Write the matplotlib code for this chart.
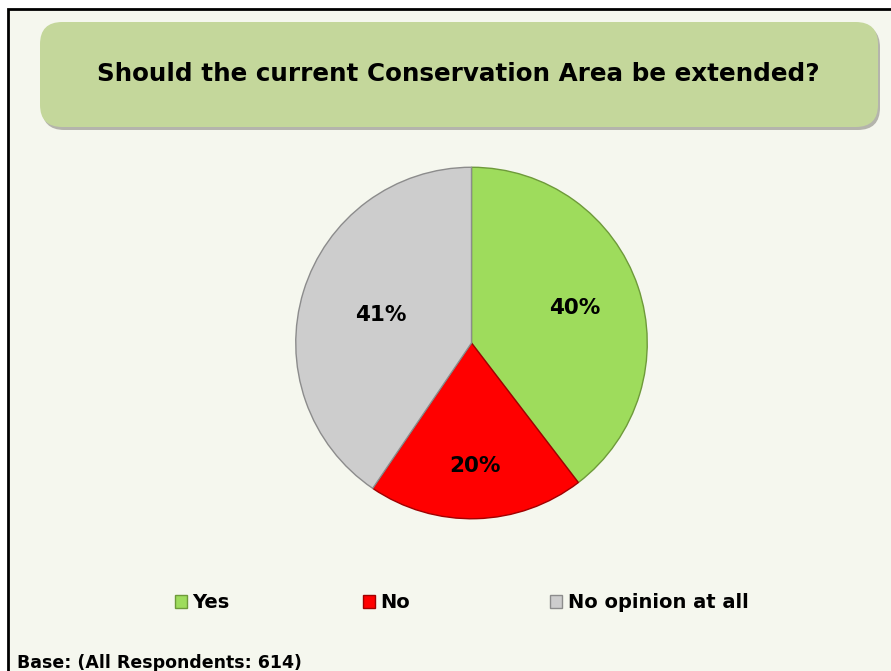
import numpy as np
import matplotlib.pyplot as plt
from matplotlib.patches import FancyBboxPatch, Rectangle

# Survey answers (shares, labels as printed)
answers = ['Yes', 'No', 'No opinion at all']
shares = [39.6, 19.9, 40.5]
pct_labels = ['40%', '20%', '41%']
colors = ['#9edc5c', '#ff0000', '#cdcdcd']
edges = ['#6e9a3a', '#a00000', '#8c8c8c']
label_dist = [0.62, 0.70, 0.54]

title = 'Should the current Conservation Area be extended?'
base_note = 'Base: (All Respondents: 614)'

W, H = 891, 671
fig = plt.figure(figsize=(W / 100, H / 100), dpi=100)
fig.patch.set_facecolor('white')

# slide background with black border on top/left
fig.patches.append(Rectangle((7.5 / W, -0.1), 1.2, (H - 8.5) / H + 0.1,
                             transform=fig.transFigure, facecolor='#f5f7ee',
                             edgecolor='black', linewidth=2, zorder=0))

# title box with a soft shadow
for dx, dy, fc, z in [(2, -3, '#b4b4ac', 1), (0, 0, '#c4d79b', 2)]:
    fig.patches.append(FancyBboxPatch(((40 + dx) / W, (H - 127 + dy) / H),
                                      838 / W, 105 / H,
                                      boxstyle='round,pad=0,rounding_size=0.025',
                                      transform=fig.transFigure, facecolor=fc,
                                      edgecolor='none', zorder=z,
                                      mutation_aspect=W / H))
fig.text(458 / W, (H - 74) / H, title, ha='center', va='center',
         fontsize=17.7, fontweight='bold', family='DejaVu Sans', zorder=3)

# pie
cx, cy, r = 471.5, 343, 177.5
ax = fig.add_axes([(cx - r) / W, (H - cy - r) / H, 2 * r / W, 2 * r / H])
ax.set_zorder(5)
wedges, texts = ax.pie(shares, colors=colors, startangle=90,
                       counterclock=False, radius=1,
                       wedgeprops=dict(linewidth=1))
for w, ec, lab, d in zip(wedges, edges, pct_labels, label_dist):
    w.set_edgecolor(ec)
    mid = np.deg2rad((w.theta1 + w.theta2) / 2)
    ax.text(d * np.cos(mid), d * np.sin(mid), lab, ha='center', va='center',
            fontsize=15.5, fontweight='bold')
ax.set_xlim(-1.01, 1.01)
ax.set_ylim(-1.01, 1.01)
ax.set_aspect('equal')
ax.axis('off')

# legend: one entry at each spot, evenly spaced like the original
legend_x = [175, 363, 550]
for w, name, x in zip(wedges, answers, legend_x):
    leg = fig.legend([w], [name], loc='center left',
                     bbox_to_anchor=(x / W, (H - 603) / H), frameon=False,
                     handlelength=0.6, handleheight=0.6, handletextpad=0.3,
                     borderaxespad=0, borderpad=0,
                     prop=dict(size=14, weight='bold'))
    leg.set_zorder(6)

fig.text(17 / W, (H - 663) / H, base_note, ha='left', va='center',
         fontsize=12.5, fontweight='bold', zorder=6)

fig.savefig('out.png', dpi=100)
